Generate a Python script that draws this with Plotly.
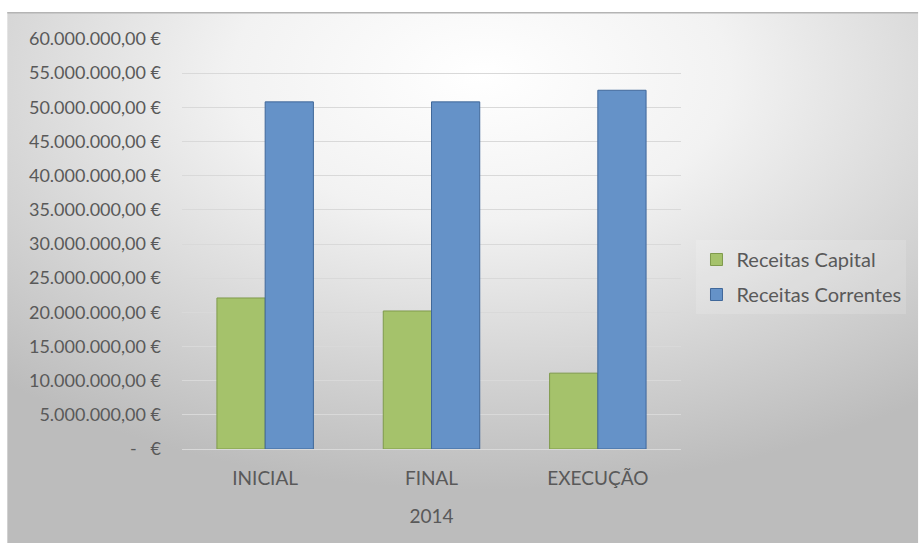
import plotly.graph_objects as go

categories = ["INICIAL", "FINAL", "EXECUÇÃO"]
receitas_capital = [22.1e6, 20.2e6, 11.1e6]
receitas_correntes = [50.8e6, 50.8e6, 52.5e6]
tick_values = [0, 5e6, 10e6, 15e6, 20e6, 25e6, 30e6, 35e6, 40e6, 45e6, 50e6, 55e6, 60e6]
tick_labels = ["-   €", "5.000.000,00 €", "10.000.000,00 €", "15.000.000,00 €",
               "20.000.000,00 €", "25.000.000,00 €", "30.000.000,00 €", "35.000.000,00 €",
               "40.000.000,00 €", "45.000.000,00 €", "50.000.000,00 €", "55.000.000,00 €",
               "60.000.000,00 €"]
axis_title = "2014"

W, H = 919, 543
FONT = "Lato"
TXT = "#595959"

svg = (
    "data:image/svg+xml;utf8,"
    "<svg xmlns='http://www.w3.org/2000/svg' width='912' height='531' viewBox='0 0 912 531' preserveAspectRatio='none'>"
    "<defs><radialGradient id='g' cx='0.52' cy='0.12' r='0.78' fx='0.52' fy='0.12'>"
    "<stop offset='0' stop-color='%23ffffff'/>"
    "<stop offset='0.35' stop-color='%23f2f2f2'/>"
    "<stop offset='1' stop-color='%23bcbcbc'/>"
    "</radialGradient></defs>"
    "<rect x='0' y='0' width='912' height='531' fill='url(%23g)'/>"
    "<rect x='0' y='0' width='912' height='1.5' fill='%23b4b4b4'/>"
    "</svg>"
)

fig = go.Figure()
fig.add_trace(go.Bar(
    x=categories, y=receitas_capital, name="Receitas Capital",
    marker=dict(color="#a5c26b", line=dict(color="#7f9a4c", width=1)),
    legendgroup="a",
))
fig.add_trace(go.Bar(
    x=categories, y=receitas_correntes, name="Receitas Correntes",
    marker=dict(color="#6592c8", line=dict(color="#40689a", width=1)),
    legendgroup="b",
))

fig.update_layout(
    width=W, height=H,
    margin=dict(l=182, r=237.5, t=39, b=94, autoexpand=False),
    paper_bgcolor="white",
    plot_bgcolor="rgba(0,0,0,0)",
    barmode="group",
    bargap=0.42,
    bargroupgap=0,
    font=dict(family=FONT, color=TXT, size=16),
    images=[dict(
        source=svg, xref="paper", yref="paper",
        x=(7 - 182) / 499.5, y=(449 - 12) / 410,
        sizex=(919 - 7) / 499.5, sizey=(543 - 12) / 410,
        xanchor="left", yanchor="top", sizing="stretch", layer="below",
    )],
    legend=dict(
        x=(697 - 182) / 499.5, xanchor="left",
        y=(449 - 277) / 410, yanchor="middle",
        font=dict(family=FONT, size=20, color=TXT),
        bgcolor="rgba(255,255,255,0.15)",
        traceorder="grouped", tracegroupgap=6,
    ),
    showlegend=True,
)

fig.update_yaxes(
    range=[0, 60e6], tickvals=tick_values, ticktext=tick_labels,
    showgrid=True, gridcolor="#d9d9d9", gridwidth=1,
    zeroline=False, showline=False,
    ticklabelstandoff=20,
    tickfont=dict(family=FONT, size=18, color=TXT),
)
fig.update_xaxes(
    showline=True, linecolor="#d9d9d9", linewidth=1,
    tickfont=dict(family=FONT, size=19, color=TXT),
    ticklabelstandoff=12,
    title=dict(text=axis_title, font=dict(family=FONT, size=19, color=TXT), standoff=21),
)

fig.write_html("out.html")
